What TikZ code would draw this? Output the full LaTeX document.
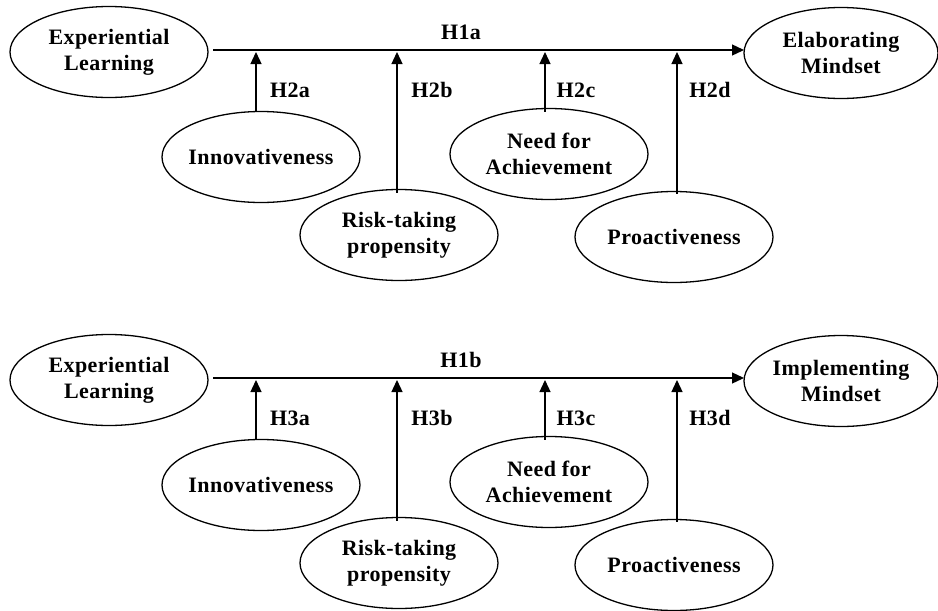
\documentclass[tikz,border=0pt]{standalone}
\usepackage{fontspec}
\setmainfont{Liberation Serif}[LetterSpace=2]
\usetikzlibrary{arrows.meta,shapes.geometric}
\tikzset{
  oval/.style={draw, ellipse, line width=1.3pt, minimum width=198pt, minimum height=91pt, inner sep=-8pt, align=center, font=\bfseries\fontsize{22}{26}\selectfont},
  lbl/.style={font=\bfseries\fontsize{22}{26}\selectfont, inner sep=0pt},
  conn/.style={line width=1.3pt, -{Triangle[length=12pt,width=11pt]}}
}
\begin{document}
\begin{tikzpicture}[x=1pt,y=-1pt]
\useasboundingbox (0,0) rectangle (938,611);
\foreach \o/\outn/\hm/\hs in {0/{Elaborating\\Mindset}/H1a/H2,328/{Implementing\\Mindset}/H1b/H3}{
  \begin{scope}[yshift=-\o pt]
  \node[oval] (el) at (109,52) {Experiential\\Learning};
  \node[oval, minimum width=194pt] (out) at (841,53) {\outn};
  \node[oval] (inn) at (261,157) {Innovativeness};
  \node[oval] (risk) at (399,235) {Risk-taking\\propensity};
  \node[oval] (need) at (549,154) {Need for\\Achievement};
  \node[oval] (pro) at (674,237) {Proactiveness};
  \coordinate (s) at (213,50);
  \coordinate (t) at (744,50);
  \coordinate (m1) at (256,52);
  \coordinate (m2) at (397,52);
  \coordinate (m3) at (545,52);
  \coordinate (m4) at (677,52);
  \draw[conn] (s) -- (t);
  \draw[conn] (m1 |- inn.north) -- (m1);
  \draw[conn] ([yshift=-4pt]m2 |- risk.north) -- (m2);
  \draw[conn] ([yshift=-4pt]m3 |- need.north) -- (m3);
  \draw[conn] ([yshift=-3pt]m4 |- pro.north) -- (m4);
  \node[lbl] (hm) at (461,32) {\hm};
  \node[lbl] (ha) at (290,90) {\hs a};
  \node[lbl] (hb) at (432,90) {\hs b};
  \node[lbl] (hc) at (576,90) {\hs c};
  \node[lbl] (hd) at (710,90) {\hs d};
  \end{scope}
}
\end{tikzpicture}
\end{document}
